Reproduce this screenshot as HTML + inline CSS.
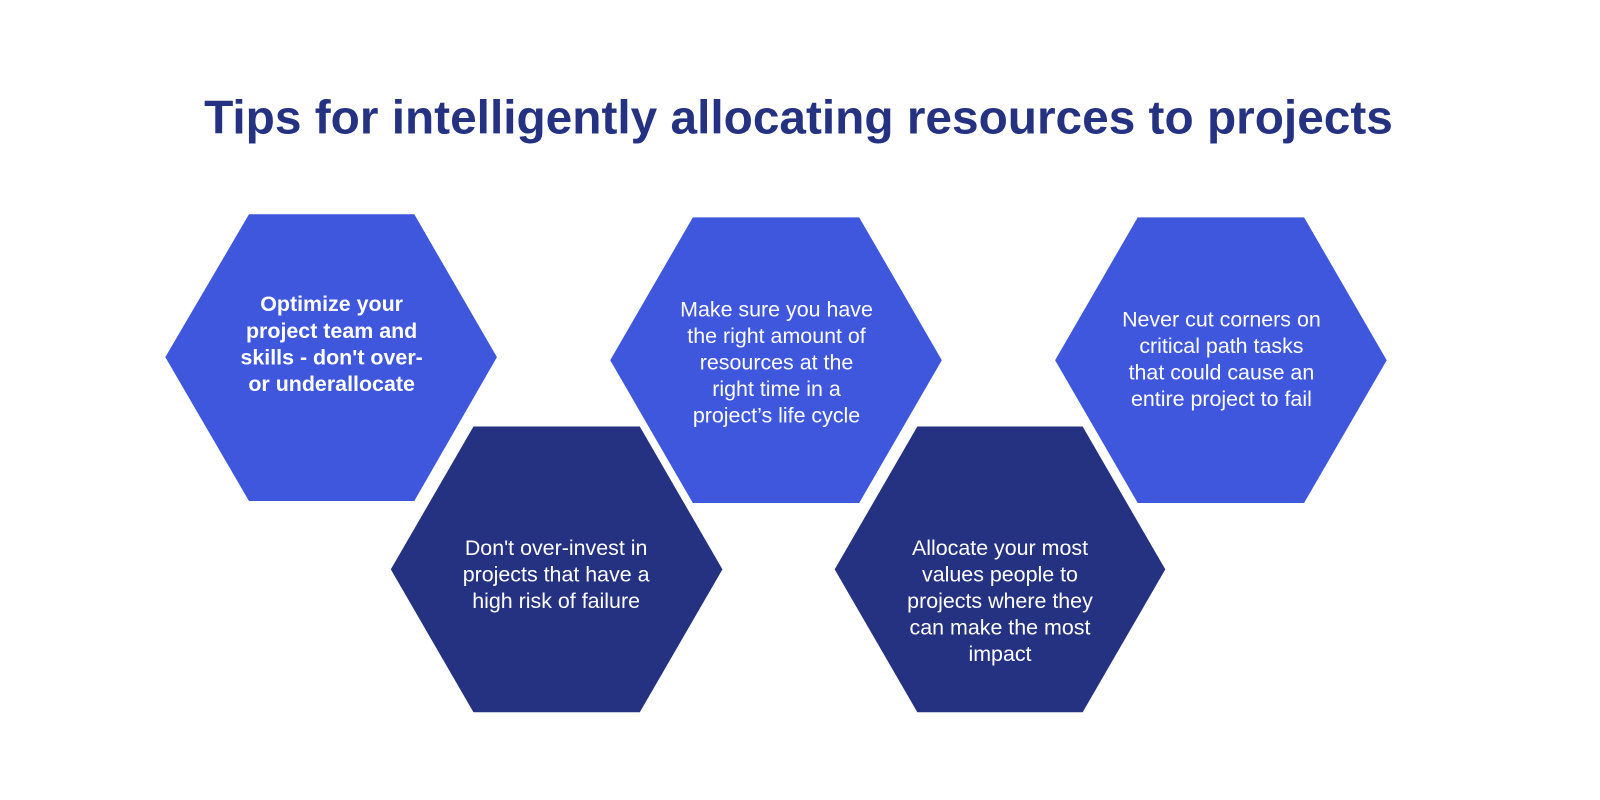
<!DOCTYPE html>
<html><head><meta charset="utf-8"><style>
html,body{margin:0;padding:0;background:#fff;}
svg{display:block;}
text{font-family:"Liberation Sans",sans-serif;}
</style></head><body>
<svg width="1600" height="800" viewBox="0 0 1600 800" xmlns="http://www.w3.org/2000/svg">
<rect width="1600" height="800" fill="#fff"/>
<g transform="scale(1.0204)">
<text x="200" y="131" font-size="46" font-weight="bold" fill="#253282" textLength="1165" lengthAdjust="spacingAndGlyphs">Tips for intelligently allocating resources to projects</text>

<polygon points="162,350 244,210 406,210 487,350 406,491 244,491" fill="#3f57dc"/>
<polygon points="383,558 464,418 627,418 708,558 627,698 464,698" fill="#253282"/>
<polygon points="598,353 679,213 842,213 923,353 842,493 679,493" fill="#3f57dc"/>
<polygon points="818,558 899,418 1061,418 1142,558 1061,698 899,698" fill="#253282"/>
<polygon points="1034,353 1115,213 1278,213 1359,353 1278,493 1115,493" fill="#3f57dc"/>

<g fill="#fff" font-size="21" text-anchor="middle">
<g font-weight="bold">
<text x="325" y="305">Optimize your</text>
<text x="325" y="331">project team and</text>
<text x="325" y="357">skills - don't over-</text>
<text x="325" y="383">or underallocate</text>
</g>
<text x="761" y="310">Make sure you have</text>
<text x="761" y="336">the right amount of</text>
<text x="761" y="362">resources at the</text>
<text x="761" y="388">right time in a</text>
<text x="761" y="414">project’s life cycle</text>

<text x="1197" y="320">Never cut corners on</text>
<text x="1197" y="346">critical path tasks</text>
<text x="1197" y="372">that could cause an</text>
<text x="1197" y="398">entire project to fail</text>

<text x="545" y="544">Don't over-invest in</text>
<text x="545" y="570">projects that have a</text>
<text x="545" y="596">high risk of failure</text>

<text x="980" y="544">Allocate your most</text>
<text x="980" y="570">values people to</text>
<text x="980" y="596">projects where they</text>
<text x="980" y="622">can make the most</text>
<text x="980" y="648">impact</text>
</g>
</g>
</svg>
</body></html>
